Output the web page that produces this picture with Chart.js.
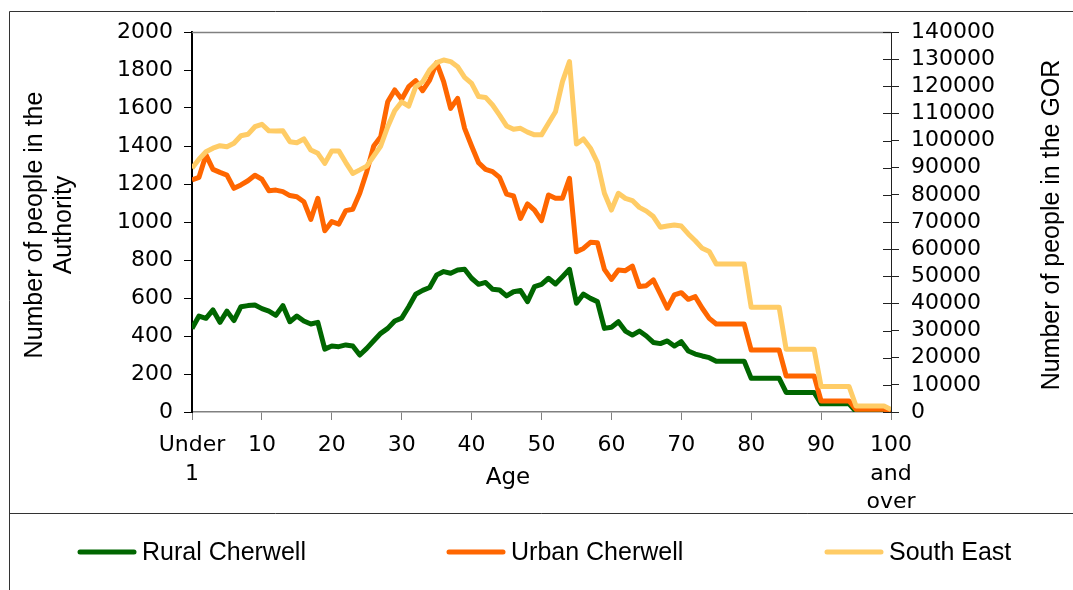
<!DOCTYPE html>
<html>
<head>
<meta charset="utf-8">
<script src="https://cdn.jsdelivr.net/npm/chart.js@4.4.0/dist/chart.umd.min.js"></script>
<style>
  html, body { margin: 0; padding: 0; background: #fff; }
  #wrap { position: relative; width: 1073px; height: 590px; }
</style>
</head>
<body>
<div id="wrap"><canvas id="ageChart" width="1073" height="590"></canvas></div>
<script>
// single years of age, 0 = "Under 1", 100 = "100 and over"
const ages = [
  0, 1, 2, 3, 4, 5, 6, 7, 8, 9,
  10, 11, 12, 13, 14, 15, 16, 17, 18, 19,
  20, 21, 22, 23, 24, 25, 26, 27, 28, 29,
  30, 31, 32, 33, 34, 35, 36, 37, 38, 39,
  40, 41, 42, 43, 44, 45, 46, 47, 48, 49,
  50, 51, 52, 53, 54, 55, 56, 57, 58, 59,
  60, 61, 62, 63, 64, 65, 66, 67, 68, 69,
  70, 71, 72, 73, 74, 75, 76, 77, 78, 79,
  80, 81, 82, 83, 84, 85, 86, 87, 88, 89,
  90, 91, 92, 93, 94, 95, 96, 97, 98, 99,
  100,
];
const xTickLabels = [
  ["Under", "1"], "10", "20", "30", "40", "50", "60", "70", "80", "90",
  ["100", "and", "over"],
];

// left axis (Authority)
const rural = [
  440, 505, 493, 537, 472, 531, 481, 554, 560, 563,
  544, 531, 509, 560, 475, 505, 479, 463, 472, 331,
  347, 344, 353, 347, 300, 335, 375, 414, 440, 479,
  494, 554, 620, 640, 655, 721, 739, 730, 747, 751,
  704, 672, 682, 646, 642, 611, 633, 639, 581, 660,
  672, 704, 674, 712, 751, 572, 621, 598, 581, 440,
  446, 475, 426, 405, 426, 400, 366, 360, 374, 347,
  370, 321, 305, 295, 286, 267, 267, 267, 267, 267,
  177, 177, 177, 177, 177, 103, 103, 103, 103, 103,
  43, 43, 43, 43, 43, 2, 2, 2, 2, 2,
  0,
];
const urban = [
  1221, 1235, 1353, 1277, 1261, 1247, 1177, 1195, 1217, 1246,
  1225, 1165, 1168, 1160, 1139, 1133, 1107, 1014, 1125, 954,
  1002, 989, 1060, 1067, 1151, 1265, 1400, 1449, 1633, 1695,
  1646, 1712, 1744, 1691, 1747, 1839, 1739, 1598, 1651, 1493,
  1400, 1312, 1277, 1265, 1235, 1147, 1137, 1019, 1095, 1063,
  1007, 1142, 1125, 1125, 1230, 844, 861, 893, 891, 751,
  698, 747, 744, 768, 660, 665, 695, 621, 546, 616,
  628, 593, 607, 546, 493, 463, 463, 463, 463, 463,
  326, 326, 326, 326, 326, 190, 190, 190, 190, 190,
  58, 58, 58, 58, 58, 14, 14, 14, 14, 14,
  5,
];
// right axis (GOR)
const southEast = [
  89800, 93100, 95900, 97200, 98100, 97700, 99000, 101800, 102300, 105100,
  106000, 103600, 103500, 103600, 99600, 99200, 100600, 96500, 95300, 91600,
  96200, 96200, 91900, 87900, 89200, 90600, 94300, 98000, 105100, 111000,
  114300, 112700, 119800, 121700, 126000, 128700, 129700, 129100, 127200, 123300,
  121100, 116200, 115900, 113100, 109400, 105400, 104200, 104500, 103100, 102100,
  102100, 106400, 110600, 121700, 129100, 98700, 100600, 97200, 91900, 80600,
  74400, 80600, 78700, 77900, 75400, 74000, 72000, 68100, 68500, 68900,
  68500, 65600, 63100, 60300, 59100, 54500, 54500, 54500, 54500, 54500,
  38600, 38600, 38600, 38600, 38600, 23100, 23100, 23100, 23100, 23100,
  9400, 9400, 9400, 9400, 9400, 2200, 2200, 2200, 2200, 2200,
  900,
];

const leftTitle = ["Number of people in the", "Authority"];
const rightTitle = "Number of people in the GOR";
const xTitle = "Age";

const tickFont = { family: "DejaVu Sans", size: 22, lineHeight: 1.3 };
const yTickFont = { family: "DejaVu Sans", size: 22, lineHeight: 1 };
const titleFont = "25px 'Liberation Sans', Arial, sans-serif";

// frame, plot top line, inner half of right ticks, titles, legend
const decor = {
  id: "decor",
  beforeDraw(chart) {
    const ctx = chart.ctx;
    ctx.save();
    ctx.fillStyle = "#fff";
    ctx.fillRect(0, 0, chart.width, chart.height);
    ctx.strokeStyle = "#333";
    ctx.lineWidth = 1;
    ctx.beginPath();
    ctx.moveTo(9.5, chart.height);
    ctx.lineTo(9.5, 11.5);
    ctx.lineTo(chart.width, 11.5);
    ctx.moveTo(9.5, 513.5);
    ctx.lineTo(chart.width, 513.5);
    ctx.stroke();
    ctx.restore();
  },
  afterDraw(chart) {
    const ctx = chart.ctx;
    const area = chart.chartArea;
    ctx.save();
    ctx.strokeStyle = "#808080";
    ctx.lineWidth = 1.5;
    ctx.beginPath();
    ctx.moveTo(area.left, area.top + 0.5);
    ctx.lineTo(area.right, area.top + 0.5);
    ctx.stroke();

    const y2 = chart.scales.y2;
    ctx.strokeStyle = "#222";
    ctx.lineWidth = 1;
    ctx.beginPath();
    y2.ticks.forEach((t) => {
      const py = Math.round(y2.getPixelForValue(t.value)) + 0.5;
      ctx.moveTo(y2.left - 8, py);
      ctx.lineTo(y2.left, py);
    });
    ctx.stroke();

    ctx.fillStyle = "#000";
    ctx.font = titleFont;
    ctx.textAlign = "center";
    ctx.textBaseline = "middle";
    const midY = (area.top + area.bottom) / 2 + 3;
    [35, 64].forEach((x, i) => {
      ctx.save();
      ctx.translate(x, midY);
      ctx.rotate(-Math.PI / 2);
      ctx.fillText(leftTitle[i], 0, 0);
      ctx.restore();
    });
    ctx.save();
    ctx.translate(1052, midY);
    ctx.rotate(-Math.PI / 2);
    ctx.fillText(rightTitle, 0, 0);
    ctx.restore();

    ctx.font = "23px 'DejaVu Sans', sans-serif";
    ctx.fillText(xTitle, 508, 478);

    // legend
    const legendX = [78, 447, 825];
    const legendY = 552;
    ctx.font = titleFont;
    ctx.textAlign = "left";
    chart.data.datasets.forEach((ds, i) => {
      ctx.strokeStyle = ds.borderColor;
      ctx.lineWidth = 5;
      ctx.lineCap = "round";
      ctx.beginPath();
      ctx.moveTo(legendX[i] + 2, legendY);
      ctx.lineTo(legendX[i] + 56, legendY);
      ctx.stroke();
      ctx.fillText(ds.label, legendX[i] + 64, legendY + 1);
    });
    ctx.restore();
  },
};

new Chart(document.getElementById("ageChart"), {
  type: "line",
  data: {
    labels: ages,
    datasets: [
      {
        label: "Rural Cherwell",
        data: rural,
        yAxisID: "y",
        borderColor: "#006600",
        order: 3,
      },
      {
        label: "Urban Cherwell",
        data: urban,
        yAxisID: "y",
        borderColor: "#ff6600",
        order: 2,
      },
      {
        label: "South East",
        data: southEast,
        yAxisID: "y2",
        borderColor: "#ffcc66",
        order: 1,
      },
    ],
  },
  options: {
    responsive: false,
    animation: false,
    devicePixelRatio: 1,
    layout: { padding: { top: 32, left: 0, right: 0, bottom: 0 } },
    elements: {
      line: { borderWidth: 5, tension: 0, fill: false, borderJoinStyle: "round" },
      point: { radius: 0, hoverRadius: 0 },
    },
    plugins: {
      legend: { display: false },
      tooltip: { enabled: false },
    },
    scales: {
      x: {
        type: "linear",
        min: 0,
        max: 100,
        grid: { drawOnChartArea: false, drawTicks: true, tickLength: 8, color: "#808080" },
        border: { color: "#808080", width: 1.5 },
        ticks: {
          stepSize: 10,
          autoSkip: false,
          maxRotation: 0,
          padding: 11,
          color: "#000",
          font: tickFont,
          callback: (v) => xTickLabels[v / 10],
        },
        afterFit: (scale) => {
          scale.height = 178;
        },
      },
      y: {
        position: "left",
        min: 0,
        max: 2000,
        grid: { drawOnChartArea: false, tickLength: 8, color: "#000" },
        border: { color: "#000", width: 2 },
        ticks: {
          stepSize: 200,
          autoSkip: false,
          padding: 11,
          color: "#000",
          font: yTickFont,
          callback: (v) => String(v),
        },
        afterFit: (scale) => {
          scale.width = 192;
        },
      },
      y2: {
        position: "right",
        min: 0,
        max: 140000,
        grid: { drawOnChartArea: false, tickLength: 8, color: "#222" },
        border: { color: "#222", width: 1 },
        ticks: {
          stepSize: 10000,
          autoSkip: false,
          padding: 12,
          color: "#000",
          font: yTickFont,
          callback: (v) => String(v),
        },
        afterFit: (scale) => {
          scale.width = 182;
        },
      },
    },
  },
  plugins: [decor],
});
</script>
</body>
</html>
